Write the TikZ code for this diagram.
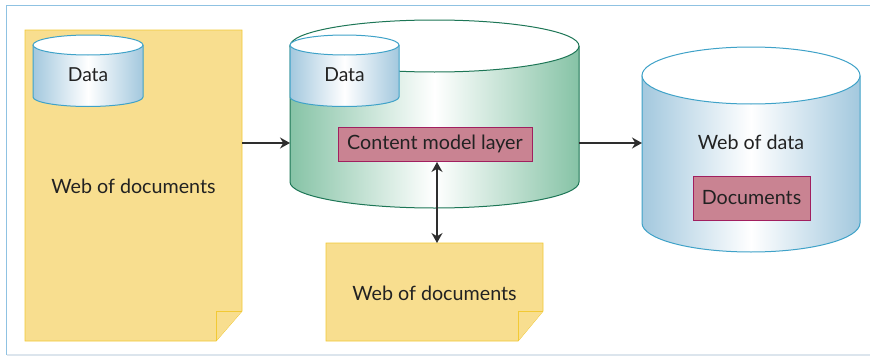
\documentclass[tikz,border=0pt]{standalone}
\usepackage{fontspec}
\setmainfont{Lato}
\usetikzlibrary{arrows.meta,calc}

\definecolor{docfill}{HTML}{F8DE8F}
\definecolor{docline}{HTML}{F2C935}
\definecolor{bluecyl}{HTML}{A3C8DE}
\definecolor{blueline}{HTML}{3FA2C8}
\definecolor{greencyl}{HTML}{86C3A6}
\definecolor{greenline}{HTML}{1D7656}
\definecolor{layerfill}{HTML}{C98392}
\definecolor{layerline}{HTML}{A11F5F}
\definecolor{frameblue}{HTML}{8FC2E2}
\definecolor{framegrey}{HTML}{DCE5ED}
\definecolor{arrowgrey}{HTML}{2E2E2E}
\definecolor{txt}{HTML}{222222}

\tikzset{
  label text/.style={font=\fontsize{19.7}{22}\selectfont, text=txt, inner sep=0pt},
  small text/.style={font=\fontsize{19.3}{22}\selectfont, text=txt, inner sep=0pt},
  area/.style={inner sep=0pt, outer sep=0pt, draw=none},
  layerbox/.style={fill=layerfill, draw=layerline, line width=0.9pt, inner sep=0pt,
    font=\fontsize{19.7}{22}\selectfont, text=txt},
  arr/.style={draw=arrowgrey, line width=1.3pt, -{Stealth[length=10pt,width=11pt]}},
  dblarr/.style={draw=arrowgrey, line width=1.3pt,
    {Stealth[length=10pt,width=11pt]}-{Stealth[length=10pt,width=11pt]}},
  docshape/.style={fill=docfill, draw=docline, line width=0.9pt, line join=miter},
}

% body shading and outline of an upright cylinder
% #1 left x, #2 right x, #3 top centre y, #4 top radius y,
% #5 bottom centre y, #6 bottom radius y, #7 side colour, #8 line colour
\newcommand{\uprightcyl}[8]{%
  \pgfmathsetmacro{\rx}{(#2-#1)/2}%
  \pgfmathsetmacro{\cx}{(#2+#1)/2}%
  \shade[left color=#7, right color=#7, middle color=white]
    (#1,-#3) -- (#1,-#5) arc[start angle=180, end angle=360, x radius=\rx, y radius=#6]
    -- (#2,-#3) -- cycle;
  \draw[#8, line width=1pt]
    (#1,-#3) -- (#1,-#5) arc[start angle=180, end angle=360, x radius=\rx, y radius=#6]
    -- (#2,-#3);
  \draw[#8, line width=1pt, fill=white] (\cx,-#3) ellipse[x radius=\rx, y radius=#4];
}

\begin{document}
\begin{tikzpicture}[x=1pt,y=1pt]
  \useasboundingbox (0,0) rectangle (870,-356);

  % frame
  \draw[frameblue, line width=1.2pt] (6.5,-355) -- (6.5,-5.5) -- (870,-5.5);
  \draw[framegrey, line width=1.2pt] (6.5,-355) -- (870,-355);

  % ---- left document with data store ----
  \node[area, minimum width=217pt, minimum height=311pt] (doc1) at (133.5,-185.5) {};
  \draw[docshape] (doc1.north west) -- (doc1.north east) -- ([yshift=30pt]doc1.south east)
    -- ([xshift=-26pt]doc1.south east) -- (doc1.south west) -- cycle;
  \draw[docshape] ([yshift=30pt]doc1.south east) -- ([xshift=-26pt,yshift=30pt]doc1.south east)
    -- ([xshift=-26pt]doc1.south east);
  \node[label text] (doc1txt) at (133.5,-186) {Web of documents};

  \uprightcyl{33}{143}{45}{10}{97}{9.5}{bluecyl}{blueline}
  \node[area, minimum width=110pt, minimum height=62pt] (data1) at (88,-71) {};
  \node[small text] (data1txt) at (88,-75) {Data};

  % ---- middle store with content model layer ----
  \uprightcyl{290}{579}{46}{26}{182}{26}{greencyl}{greenline}
  \node[area, minimum width=289pt, minimum height=162pt] (mid) at (434.5,-127) {};
  \uprightcyl{290}{399}{45}{10}{97}{9.5}{bluecyl}{blueline}
  \node[area, minimum width=109pt, minimum height=62pt] (data2) at (344.5,-71) {};
  \node[small text] (data2txt) at (344.5,-75) {Data};
  \node[layerbox, minimum width=194pt, minimum height=34.5pt] (cml) at (435,-144.3)
    {Content model layer};

  % ---- lower document ----
  \node[area, minimum width=217pt, minimum height=98pt] (doc2) at (434.5,-292) {};
  \draw[docshape] (doc2.north west) -- (doc2.north east) -- ([yshift=30pt]doc2.south east)
    -- ([xshift=-25pt]doc2.south east) -- (doc2.south west) -- cycle;
  \draw[docshape] ([yshift=30pt]doc2.south east) -- ([xshift=-25pt,yshift=30pt]doc2.south east)
    -- ([xshift=-25pt]doc2.south east);
  \node[label text] (doc2txt) at (434.5,-293) {Web of documents};

  % ---- web of data store ----
  \uprightcyl{642}{860}{75.5}{28.5}{223}{29}{bluecyl}{blueline}
  \node[area, minimum width=218pt, minimum height=148pt] (wod) at (751,-149) {};
  \node[label text] (wodtxt) at (751,-142) {Web of data};
  \node[layerbox, minimum width=117pt, minimum height=44pt] (docs) at (751.5,-198) {Documents};

  % ---- connectors ----
  \draw[arr] (doc1.east |- 0,-143) -- (mid.west |- 0,-143);
  \draw[arr] (mid.east |- 0,-143) -- (wod.west |- 0,-143);
  \draw[dblarr] (cml.south -| 437,0) -- (doc2.north -| 437,0);
\end{tikzpicture}
\end{document}
